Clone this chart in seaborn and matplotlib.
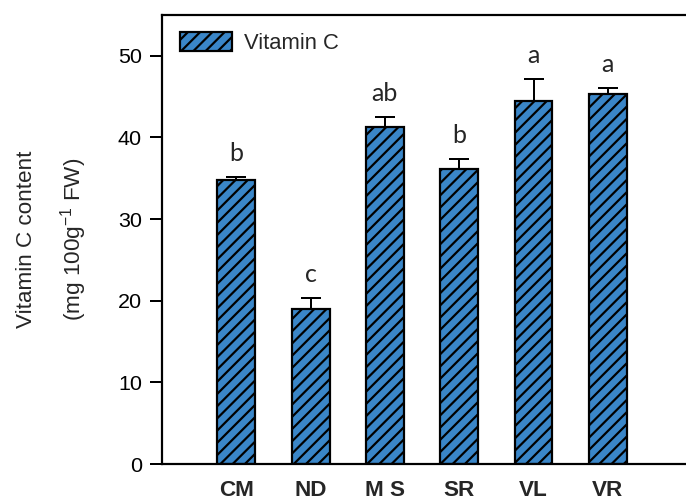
import matplotlib
matplotlib.use("Agg")
import matplotlib.pyplot as plt
import seaborn as sns
import pandas as pd

treatments = ["CM", "ND", "M S", "SR", "VL", "VR"]
vitamin_c = [34.8, 18.95, 41.3, 36.15, 44.5, 45.35]
errors = [0.35, 1.35, 1.15, 1.2, 2.7, 0.7]
letters = ["b", "c", "ab", "b", "a", "a"]

DPI = 110


def pt(px):
    return px * 72.0 / DPI


sns.set_theme(style="white")
plt.rcParams["font.family"] = ["Liberation Sans", "DejaVu Sans"]
plt.rcParams["mathtext.fontset"] = "custom"
plt.rcParams["mathtext.rm"] = "Liberation Sans"
plt.rcParams["mathtext.it"] = "Liberation Sans:italic"
plt.rcParams["hatch.linewidth"] = pt(2.2)
plt.rcParams["hatch.color"] = "black"

df = pd.DataFrame({"Treatment": treatments, "Vitamin C": vitamin_c})

W, H = 686, 500
fig = plt.figure(figsize=(W / DPI, H / DPI), dpi=DPI)
ax_left, ax_top, ax_bottom = 162, 15, 464
ax_w = (W - ax_left) + 7
ax = fig.add_axes([ax_left / W, (H - ax_bottom) / H,
                   ax_w / W, (ax_bottom - ax_top) / H])

sns.barplot(data=df, x="Treatment", y="Vitamin C", color="#3a86c8",
            saturation=1, width=0.51, edgecolor="black", linewidth=pt(2.2),
            hatch="///", ax=ax, label="Vitamin C", errorbar=None)

xs = list(range(len(treatments)))
ax.errorbar(xs, vitamin_c, yerr=[[0] * len(errors), errors], fmt="none",
            ecolor="black", elinewidth=pt(2), capsize=pt(10), capthick=pt(2),
            zorder=3)

for x, v, e, lab in zip(xs, vitamin_c, errors, letters):
    ax.annotate(lab, (x, v + e), xytext=(0, pt(16)), textcoords="offset points",
                ha="center", va="baseline", fontsize=pt(25), family="Lato")

ax.set_ylim(0, 55)
ax.set_xlim(-1, -1 + ax_w / 74.3)
ax.set_yticks([0, 10, 20, 30, 40, 50])
ax.tick_params(axis="y", which="major", direction="out", length=pt(12),
               width=pt(2), labelsize=pt(21.5), pad=pt(8), left=True,
               colors="black")
ax.tick_params(axis="x", length=0, pad=pt(16))
for t in ax.get_xticklabels():
    t.set_fontweight("bold")
    t.set_fontsize(pt(22.5))
ax.set_xlabel("")
ax.set_ylabel("Vitamin C content\n(mg 100g$^{-1}$ FW)", fontsize=pt(22.5),
              linespacing=1.95)
ax.yaxis.set_label_coords((89 - ax_left) / ax_w, 0.5)

for s in ["left", "bottom", "top"]:
    ax.spines[s].set_visible(True)
    ax.spines[s].set_linewidth(pt(2.2))
    ax.spines[s].set_color("black")
ax.spines["right"].set_visible(False)

leg = ax.legend(loc="upper left", bbox_to_anchor=(18 / ax_w, 1 - 17 / 449),
                frameon=False, fontsize=pt(22), handlelength=2.35,
                handleheight=0.92, borderpad=0, borderaxespad=0,
                handletextpad=0.55)

fig.savefig("out.png", dpi=DPI)
